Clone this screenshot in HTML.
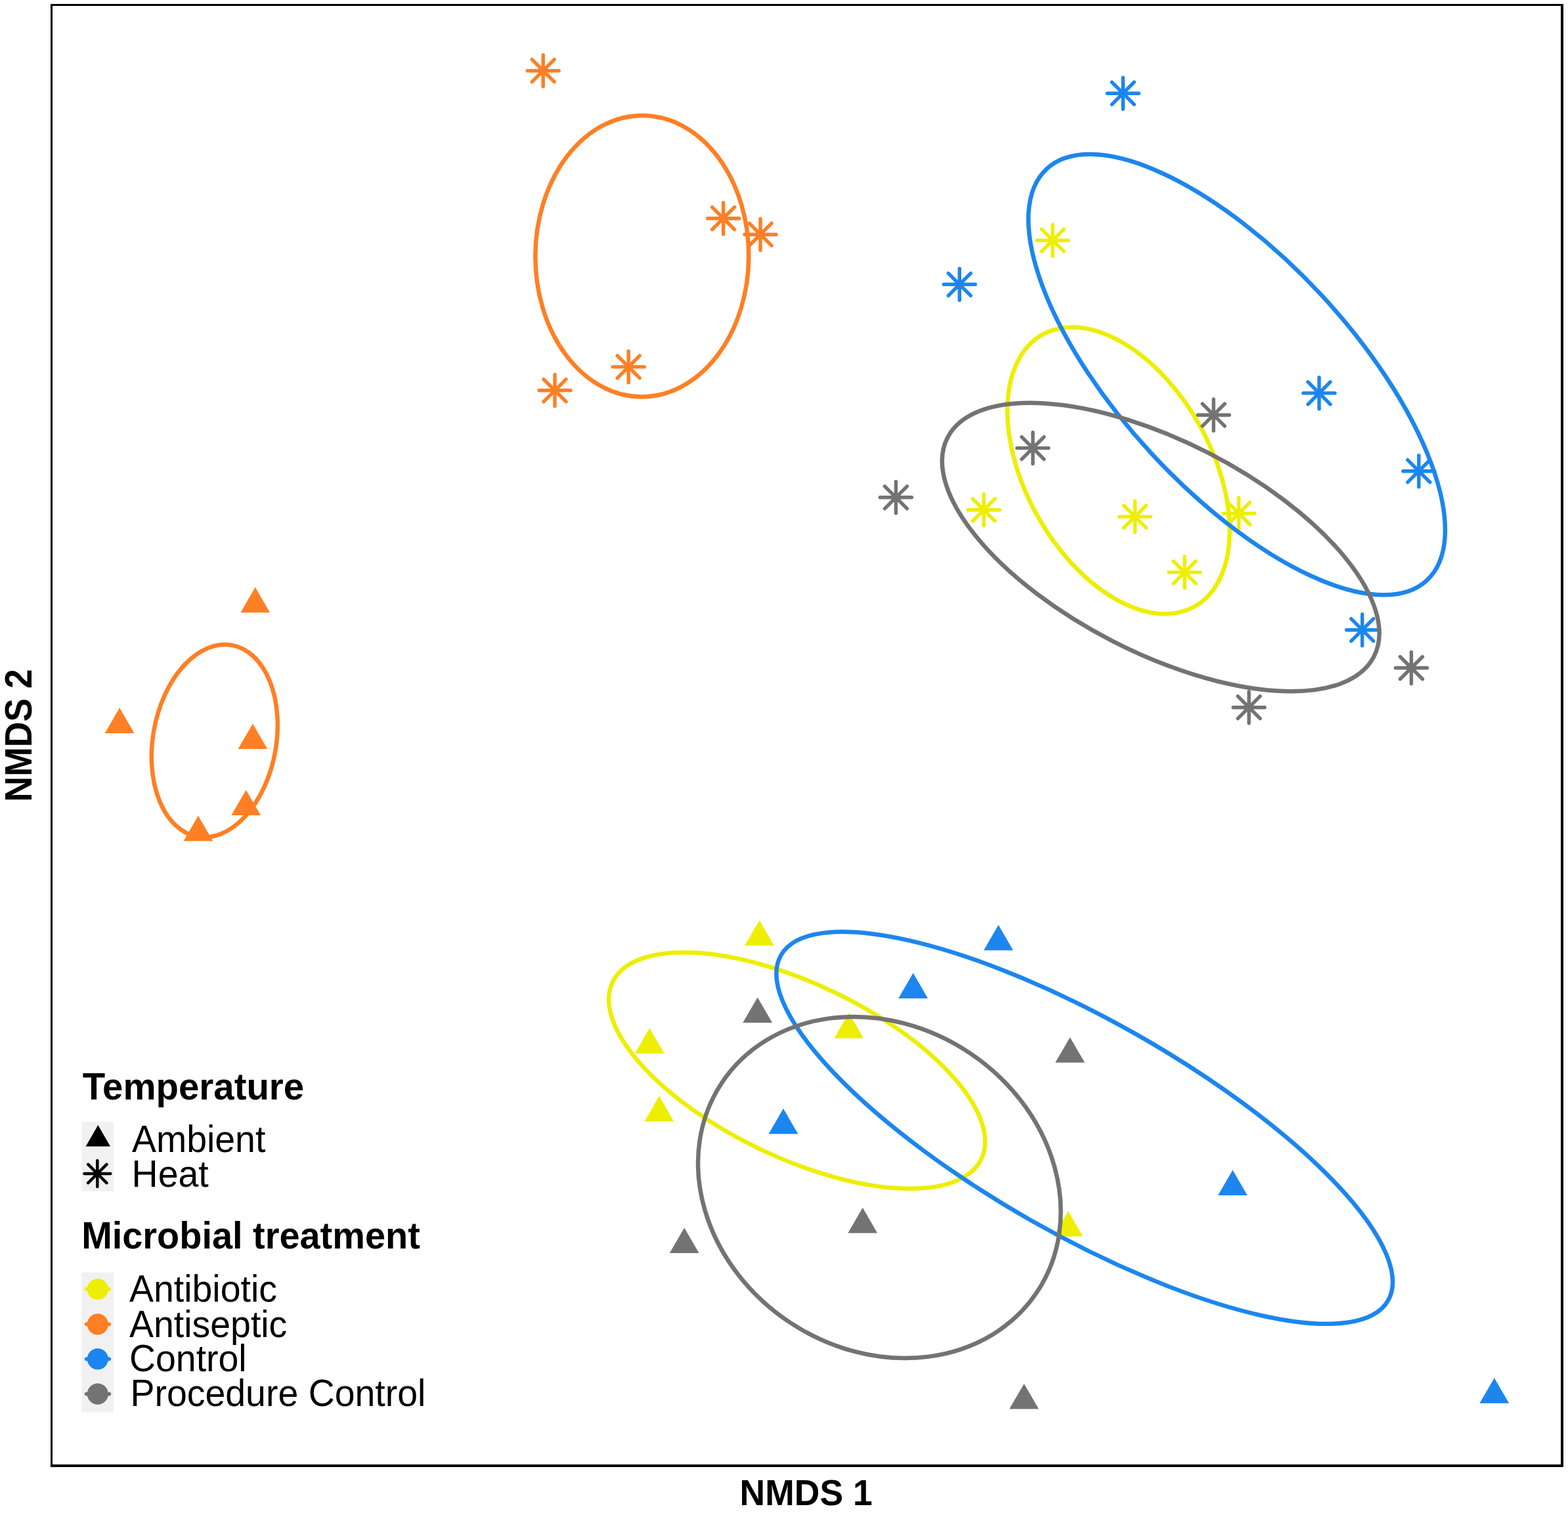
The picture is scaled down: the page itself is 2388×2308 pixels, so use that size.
<!DOCTYPE html>
<html lang="en">
<head>
<meta charset="utf-8">
<title>NMDS ordination</title>
<style>
html,body{margin:0;padding:0;background:#fff;}
body{width:2388px;height:2308px;overflow:hidden;}
svg{display:block;}
text{font-family:"Liberation Sans",Arial,Helvetica,sans-serif;fill:#000;}
.b{font-weight:700;font-size:56px;}
.r{font-weight:400;font-size:55.45px;}
.a{font-weight:700;font-size:53.5px;}
</style>
</head>
<body>
<svg width="2388" height="2308" viewBox="0 0 2388 2308">
<rect width="2388" height="2308" fill="#fff"/>
<g fill="#000" shape-rendering="crispEdges"><rect x="77" y="6" width="2304" height="3"/><rect x="77" y="6" width="3" height="2229"/><rect x="2377" y="6" width="4" height="2229"/><rect x="77" y="2231" width="2304" height="4"/></g>
<g><ellipse cx="1703.5" cy="716.85" rx="237.31" ry="141.51" transform="rotate(60.8 1703.5 716.85)" fill="none" stroke="#EEEE00" stroke-width="6.5"/><ellipse cx="1213.75" cy="1630.9" rx="311.46" ry="132.18" transform="rotate(-154.36 1213.75 1630.9)" fill="none" stroke="#EEEE00" stroke-width="6.5"/><path d="M1156.5 1401.9L1178.9 1440.5H1134.1Z" fill="#EEEE00"/><path d="M1292.8 1543.1L1315.2 1581.7H1270.4Z" fill="#EEEE00"/><path d="M989.3 1566.3L1011.7 1604.9H966.9Z" fill="#EEEE00"/><path d="M1003.9 1669.8L1026.3 1708.4H981.5Z" fill="#EEEE00"/><path d="M1626.8 1845L1649.2 1883.6H1604.4Z" fill="#EEEE00"/><path d="M1579.2 366.2H1627.2M1603.2 342.2V390.2M1586.2 349.2L1620.2 383.2M1586.2 383.2L1620.2 349.2" stroke="#EEEE00" stroke-width="5.4" stroke-linecap="round" fill="none"/><path d="M1474.3 776.8H1522.3M1498.3 752.8V800.8M1481.3 759.8L1515.3 793.8M1481.3 793.8L1515.3 759.8" stroke="#EEEE00" stroke-width="5.4" stroke-linecap="round" fill="none"/><path d="M1704.5 787.1H1752.5M1728.5 763.1V811.1M1711.5 770.1L1745.5 804.1M1711.5 804.1L1745.5 770.1" stroke="#EEEE00" stroke-width="5.4" stroke-linecap="round" fill="none"/><path d="M1862.7 782.1H1910.7M1886.7 758.1V806.1M1869.7 765.1L1903.7 799.1M1869.7 799.1L1903.7 765.1" stroke="#EEEE00" stroke-width="5.4" stroke-linecap="round" fill="none"/><path d="M1780.1 871.9H1828.1M1804.1 847.9V895.9M1787.1 854.9L1821.1 888.9M1787.1 888.9L1821.1 854.9" stroke="#EEEE00" stroke-width="5.4" stroke-linecap="round" fill="none"/></g>
<g><ellipse cx="977.8" cy="390.2" rx="214.3" ry="162.5" transform="rotate(90.29 977.8 390.2)" fill="none" stroke="#FF7F24" stroke-width="6.5"/><ellipse cx="326.8" cy="1128.7" rx="148.21" ry="93.81" transform="rotate(100.23 326.8 1128.7)" fill="none" stroke="#FF7F24" stroke-width="6.5"/><path d="M388.7 894.6L411.1 933.2H366.3Z" fill="#FF7F24"/><path d="M182.1 1078.3L204.5 1116.9H159.7Z" fill="#FF7F24"/><path d="M384.9 1102.4L407.3 1141H362.5Z" fill="#FF7F24"/><path d="M374.7 1203.5L397.1 1242.1H352.3Z" fill="#FF7F24"/><path d="M301.9 1242.7L324.3 1281.3H279.5Z" fill="#FF7F24"/><path d="M803.2 107.7H851.2M827.2 83.7V131.7M810.2 90.7L844.2 124.7M810.2 124.7L844.2 90.7" stroke="#FF7F24" stroke-width="5.4" stroke-linecap="round" fill="none"/><path d="M1077.6 332.7H1125.6M1101.6 308.7V356.7M1084.6 315.7L1118.6 349.7M1084.6 349.7L1118.6 315.7" stroke="#FF7F24" stroke-width="5.4" stroke-linecap="round" fill="none"/><path d="M1134.1 357.2H1182.1M1158.1 333.2V381.2M1141.1 340.2L1175.1 374.2M1141.1 374.2L1175.1 340.2" stroke="#FF7F24" stroke-width="5.4" stroke-linecap="round" fill="none"/><path d="M933.2 558.9H981.2M957.2 534.9V582.9M940.2 541.9L974.2 575.9M940.2 575.9L974.2 541.9" stroke="#FF7F24" stroke-width="5.4" stroke-linecap="round" fill="none"/><path d="M821 594.8H869M845 570.8V618.8M828 577.8L862 611.8M828 611.8L862 577.8" stroke="#FF7F24" stroke-width="5.4" stroke-linecap="round" fill="none"/></g>
<g><ellipse cx="1883.55" cy="570.7" rx="426.64" ry="176.97" transform="rotate(47.27 1883.55 570.7)" fill="none" stroke="#1C86EE" stroke-width="6.5"/><ellipse cx="1651.7" cy="1718.2" rx="531.88" ry="162.81" transform="rotate(-150.37 1651.7 1718.2)" fill="none" stroke="#1C86EE" stroke-width="6.5"/><path d="M1390.7 1482.3L1413.1 1520.9H1368.3Z" fill="#1C86EE"/><path d="M1193 1688.8L1215.4 1727.4H1170.6Z" fill="#1C86EE"/><path d="M1520.6 1409.1L1543 1447.7H1498.2Z" fill="#1C86EE"/><path d="M1877.3 1782.4L1899.7 1821H1854.9Z" fill="#1C86EE"/><path d="M2275.8 2099.2L2298.2 2137.8H2253.4Z" fill="#1C86EE"/><path d="M1686.3 142.2H1734.3M1710.3 118.2V166.2M1693.3 125.2L1727.3 159.2M1693.3 159.2L1727.3 125.2" stroke="#1C86EE" stroke-width="5.4" stroke-linecap="round" fill="none"/><path d="M1437.3 433.3H1485.3M1461.3 409.3V457.3M1444.3 416.3L1478.3 450.3M1444.3 450.3L1478.3 416.3" stroke="#1C86EE" stroke-width="5.4" stroke-linecap="round" fill="none"/><path d="M1985 598.9H2033M2009 574.9V622.9M1992 581.9L2026 615.9M1992 615.9L2026 581.9" stroke="#1C86EE" stroke-width="5.4" stroke-linecap="round" fill="none"/><path d="M2136.8 717.7H2184.8M2160.8 693.7V741.7M2143.8 700.7L2177.8 734.7M2143.8 734.7L2177.8 700.7" stroke="#1C86EE" stroke-width="5.4" stroke-linecap="round" fill="none"/><path d="M2050.7 959.7H2098.7M2074.7 935.7V983.7M2057.7 942.7L2091.7 976.7M2057.7 976.7L2091.7 942.7" stroke="#1C86EE" stroke-width="5.4" stroke-linecap="round" fill="none"/></g>
<g><ellipse cx="1767.7" cy="833.5" rx="364.99" ry="160.84" transform="rotate(-152.82 1767.7 833.5)" fill="none" stroke="#737373" stroke-width="6.5"/><ellipse cx="1339.3" cy="1809.0" rx="288.13" ry="246.72" transform="rotate(-146.55 1339.3 1809.0)" fill="none" stroke="#737373" stroke-width="6.5"/><path d="M1153.7 1519.4L1176.1 1558H1131.3Z" fill="#737373"/><path d="M1313.8 1839.8L1336.2 1878.4H1291.4Z" fill="#737373"/><path d="M1042.2 1870.4L1064.6 1909H1019.8Z" fill="#737373"/><path d="M1629.6 1580.2L1652 1618.8H1607.2Z" fill="#737373"/><path d="M1559.6 2108L1582 2146.6H1537.2Z" fill="#737373"/><path d="M1549 682.6H1597M1573 658.6V706.6M1556 665.6L1590 699.6M1556 699.6L1590 665.6" stroke="#737373" stroke-width="5.4" stroke-linecap="round" fill="none"/><path d="M1340.4 757.8H1388.4M1364.4 733.8V781.8M1347.4 740.8L1381.4 774.8M1347.4 774.8L1381.4 740.8" stroke="#737373" stroke-width="5.4" stroke-linecap="round" fill="none"/><path d="M1824.2 632.2H1872.2M1848.2 608.2V656.2M1831.2 615.2L1865.2 649.2M1831.2 649.2L1865.2 615.2" stroke="#737373" stroke-width="5.4" stroke-linecap="round" fill="none"/><path d="M2125.4 1017.5H2173.4M2149.4 993.5V1041.5M2132.4 1000.5L2166.4 1034.5M2132.4 1034.5L2166.4 1000.5" stroke="#737373" stroke-width="5.4" stroke-linecap="round" fill="none"/><path d="M1878.1 1077.7H1926.1M1902.1 1053.7V1101.7M1885.1 1060.7L1919.1 1094.7M1885.1 1094.7L1919.1 1060.7" stroke="#737373" stroke-width="5.4" stroke-linecap="round" fill="none"/></g>
<g><rect x="124.3" y="1709" width="48.7" height="106" fill="#F1F1F1"/><rect x="124.3" y="1938.5" width="48.7" height="213" fill="#F1F1F1"/><path d="M149.3 1714L168 1746.4H130.6Z" fill="#000"/><path d="M128.4 1788H168.2M148.3 1768.1V1807.9M134.2 1773.9L162.4 1802.1M134.2 1802.1L162.4 1773.9" stroke="#000" stroke-width="4.5" stroke-linecap="round" fill="none"/><path d="M131.6 1964.0H166.2" stroke="#EEEE00" stroke-width="5.8" stroke-linecap="round"/><circle cx="148.8" cy="1964.0" r="16.1" fill="#EEEE00"/><path d="M131.6 2017.3H166.2" stroke="#FF7F24" stroke-width="5.8" stroke-linecap="round"/><circle cx="148.8" cy="2017.3" r="16.1" fill="#FF7F24"/><path d="M131.6 2070.3H166.2" stroke="#1C86EE" stroke-width="5.8" stroke-linecap="round"/><circle cx="148.8" cy="2070.3" r="16.1" fill="#1C86EE"/><path d="M131.6 2123.6H166.2" stroke="#737373" stroke-width="5.8" stroke-linecap="round"/><circle cx="148.8" cy="2123.6" r="16.1" fill="#737373"/></g>
<g><text transform="translate(125.8 1674.9) scale(1 1.025)" class="b" style="font-size:56.4px">Temperature</text><text transform="translate(201 1755.1) scale(1 1.025)" class="r">Ambient</text><text transform="translate(200.6 1808.1) scale(1 1.025)" class="r">Heat</text><text transform="translate(124.2 1902) scale(1 1.025)" class="b" style="font-size:55.9px">Microbial treatment</text><text transform="translate(197 1982.9) scale(1 1.025)" class="r">Antibiotic</text><text transform="translate(197 2036.6) scale(1 1.025)" class="r">Antiseptic</text><text transform="translate(197 2089.1) scale(1 1.025)" class="r">Control</text><text transform="translate(198.5 2142.3) scale(1 1.025)" class="r">Procedure Control</text><text transform="translate(1126.6 2293) scale(1 1.04)" class="a">NMDS 1</text><text transform="translate(47.9 1221.4) rotate(-90) scale(1 1.065)" class="a">NMDS 2</text></g>
</svg>
</body>
</html>
